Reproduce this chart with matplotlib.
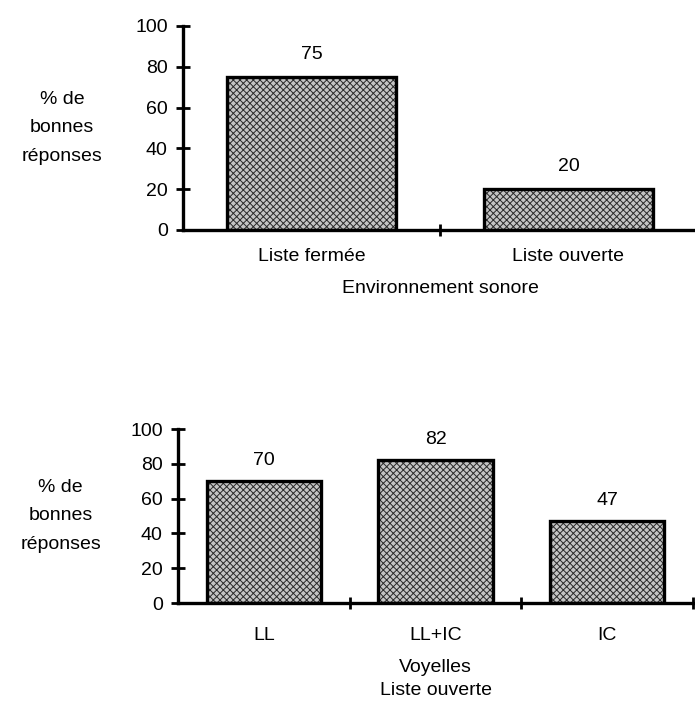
import numpy as np
import matplotlib.pyplot as plt

# Data
top_categories = ["Liste fermée", "Liste ouverte"]
top_values = [75, 20]
top_xlabel = "Environnement sonore"

bottom_categories = ["LL", "LL+IC", "IC"]
bottom_values = [70, 82, 47]
bottom_xlabel = "Voyelles\nListe ouverte"

y_ticks = [0, 20, 40, 60, 80, 100]
ylabel = "% de\nbonnes\nréponses"

plt.rcParams['font.family'] = ['Liberation Sans', 'DejaVu Sans']
plt.rcParams['hatch.linewidth'] = 0.7
FS = 14


def draw_panel(ax, categories, values, xlabel, bar_width, tick_pad, label_pad, xl_spacing):
    x = np.arange(len(categories))
    # stippled fill, then thick black outline on top
    ax.bar(x, values, width=bar_width, color="#c4c4c4", edgecolor="#2a2a2a",
           linewidth=0, hatch="xxxxx", zorder=2)
    ax.bar(x, values, width=bar_width, fill=False, edgecolor="black",
           linewidth=2.4, zorder=3)
    for xi, v in zip(x, values):
        ax.text(xi, v + 7, f"{v}", ha="center", va="bottom", fontsize=FS)

    ax.set_xlim(-0.5, len(categories) - 0.5)
    ax.set_ylim(0, 100)
    ax.set_yticks(y_ticks)
    ax.set_xticks(x)
    ax.set_xticklabels(categories, fontsize=FS)
    ax.set_xticks(np.arange(len(categories)) + 0.5, minor=True)
    ax.tick_params(axis="x", which="major", length=0, pad=tick_pad)
    ax.tick_params(axis="x", which="minor", direction="inout", length=9, width=2)
    ax.tick_params(axis="y", direction="inout", length=10, width=2, labelsize=FS, pad=6)

    for side in ["top", "right"]:
        ax.spines[side].set_visible(False)
    for side in ["left", "bottom"]:
        ax.spines[side].set_linewidth(2.4)
    ax.spines["left"].set_bounds(0, 100)

    ax.set_xlabel(xlabel, fontsize=FS, labelpad=label_pad, linespacing=xl_spacing)
    ax.set_ylabel(ylabel, fontsize=FS, rotation=0, ha="center", va="center",
                  linespacing=1.85)


fig = plt.figure(figsize=(6.95, 7.04), dpi=100)

ax1 = fig.add_axes([183 / 695, 1 - 230 / 704, (697 - 183) / 695, 204 / 704])
draw_panel(ax1, top_categories, top_values, top_xlabel, 0.66, 13, 11, 1.5)
ax1.yaxis.set_label_coords(-0.235, 0.5)

ax2 = fig.add_axes([178 / 695, 1 - 603 / 704, (693 - 178) / 695, 174 / 704])
draw_panel(ax2, bottom_categories, bottom_values, bottom_xlabel, 0.665, 17, 11, 1.5)
ax2.yaxis.set_label_coords(-0.228, 0.5)

fig.savefig("out.png", dpi=100)
